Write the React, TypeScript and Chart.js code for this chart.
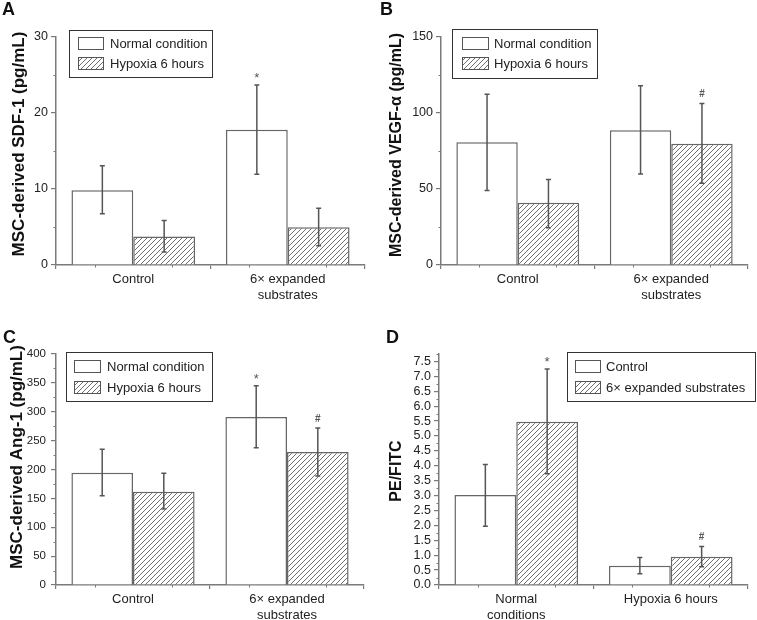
import React, { useEffect, useRef } from 'react';
import { Chart, registerables } from 'chart.js';

Chart.register(...registerables);

// ---------- Data ----------
// Panel A: SDF-1
const catsA: (string | string[])[] = ['Control', ['6× expanded', 'substrates']];
const normalA = [9.85, 17.8];
const normalLoA = [6.75, 11.95];
const normalHiA = [13.05, 23.7];
const hypoxA = [3.75, 4.96];
const hypoxLoA = [1.7, 2.54];
const hypoxHiA = [5.85, 7.46];
const marksNormalA = ['', '*'];
const marksHypoxA = ['', ''];
const ticksA = [0, 10, 20, 30];

// Panel B: VEGF-α
const catsB: (string | string[])[] = ['Control', ['6× expanded', 'substrates']];
const normalB = [80.7, 88.6];
const normalLoB = [49.0, 59.9];
const normalHiB = [112.4, 117.9];
const hypoxB = [40.9, 79.8];
const hypoxLoB = [24.5, 53.8];
const hypoxHiB = [56.2, 106.3];
const marksNormalB = ['', ''];
const marksHypoxB = ['', '#'];
const ticksB = [0, 50, 100, 150];

// Panel C: Ang-1
const catsC: (string | string[])[] = ['Control', ['6× expanded', 'substrates']];
const normalC = [194.5, 290.9];
const normalLoC = [154.7, 237.8];
const normalHiC = [234.9, 345.2];
const hypoxC = [161.6, 230.3];
const hypoxLoC = [131.6, 188.7];
const hypoxHiC = [193.4, 271.9];
const marksNormalC = ['', '*'];
const marksHypoxC = ['', '#'];
const ticksC = [0, 50, 100, 150, 200, 250, 300, 350, 400];

// Panel D: PE/FITC
const catsD: (string | string[])[] = [['Normal', 'conditions'], 'Hypoxia 6 hours'];
const controlD = [3.02, 0.65];
const controlLoD = [1.97, 0.38];
const controlHiD = [4.04, 0.92];
const expandedD = [5.48, 0.95];
const expandedLoD = [3.73, 0.61];
const expandedHiD = [7.25, 1.29];
const marksControlD = ['', ''];
const marksExpandedD = ['*', '#'];
const ticksD = [0, 0.5, 1, 1.5, 2, 2.5, 3, 3.5, 4, 4.5, 5, 5.5, 6, 6.5, 7, 7.5];

const legendAC = ['Normal condition', 'Hypoxia 6 hours'];
const legendD = ['Control', '6× expanded substrates'];

// ---------- Styles ----------
const FONT = '"Liberation Sans", Arial, Helvetica, sans-serif';
const AXIS = '#7a7a7a';
const BAR_BORDER = '#666666';
const ERR = '#555555';
const TEXT = '#222222';

type Series = {
  label: string;
  data: number[];
  lo: number[];
  hi: number[];
  marks: string[];
  hatched: boolean;
};

type PanelCfg = {
  key: string;
  letter: string;
  letterX: number;
  letterY: number;
  x: number;
  y: number;
  w: number;
  h: number;
  area: { left: number; right: number; top: number; bottom: number };
  labels: (string | string[])[];
  series: Series[];
  yMax: number;
  ticks: number[];
  minorStep: number;
  decimals: number;
  tickFont: number;
  tickPad: number;
  title: string;
  titleFont: number;
  titleX: number;
  titleY: number;
  legend: { x: number; y: number; w: number; h: number; swX: number; swW: number; swH: number; rows: number[]; textX: number };
};

const panels: PanelCfg[] = [
  {
    key: 'A', letter: 'A', letterX: 2, letterY: 0, x: 0, y: 0, w: 378, h: 310,
    area: { left: 56, right: 365, top: 37, bottom: 265 },
    labels: catsA,
    series: [
      { label: legendAC[0], data: normalA, lo: normalLoA, hi: normalHiA, marks: marksNormalA, hatched: false },
      { label: legendAC[1], data: hypoxA, lo: hypoxLoA, hi: hypoxHiA, marks: marksHypoxA, hatched: true },
    ],
    yMax: 30, ticks: ticksA, minorStep: 5, decimals: 0, tickFont: 12.5, tickPad: 3,
    title: 'MSC-derived SDF-1 (pg/mL)', titleFont: 17, titleX: 19, titleY: 144,
    legend: { x: 69, y: 30, w: 143, h: 47, swX: 78, swW: 25, swH: 12, rows: [37, 57], textX: 110 },
  },
  {
    key: 'B', letter: 'B', letterX: 2, letterY: 0, x: 378, y: 0, w: 379, h: 310,
    area: { left: 63, right: 370, top: 37, bottom: 265 },
    labels: catsB,
    series: [
      { label: legendAC[0], data: normalB, lo: normalLoB, hi: normalHiB, marks: marksNormalB, hatched: false },
      { label: legendAC[1], data: hypoxB, lo: hypoxLoB, hi: hypoxHiB, marks: marksHypoxB, hatched: true },
    ],
    yMax: 150, ticks: ticksB, minorStep: 25, decimals: 0, tickFont: 12.5, tickPad: 3,
    title: 'MSC-derived VEGF-α (pg/mL)', titleFont: 16, titleX: 19, titleY: 145,
    legend: { x: 74, y: 29, w: 145, h: 49, swX: 84, swW: 26, swH: 12, rows: [37, 57], textX: 116 },
  },
  {
    key: 'C', letter: 'C', letterX: 3, letterY: 18, x: 0, y: 310, w: 378, h: 310,
    area: { left: 56, right: 364, top: 44, bottom: 275 },
    labels: catsC,
    series: [
      { label: legendAC[0], data: normalC, lo: normalLoC, hi: normalHiC, marks: marksNormalC, hatched: false },
      { label: legendAC[1], data: hypoxC, lo: hypoxLoC, hi: hypoxHiC, marks: marksHypoxC, hatched: true },
    ],
    yMax: 400, ticks: ticksC, minorStep: 25, decimals: 0, tickFont: 11.5, tickPad: 5,
    title: 'MSC-derived Ang-1 (pg/mL)', titleFont: 17, titleX: 17, titleY: 147,
    legend: { x: 66, y: 42, w: 146, h: 49, swX: 74, swW: 26, swH: 12, rows: [50, 71], textX: 107 },
  },
  {
    key: 'D', letter: 'D', letterX: 8, letterY: 18, x: 378, y: 310, w: 379, h: 310,
    area: { left: 61, right: 370, top: 44, bottom: 275 },
    labels: catsD,
    series: [
      { label: legendD[0], data: controlD, lo: controlLoD, hi: controlHiD, marks: marksControlD, hatched: false },
      { label: legendD[1], data: expandedD, lo: expandedLoD, hi: expandedHiD, marks: marksExpandedD, hatched: true },
    ],
    yMax: 7.75, ticks: ticksD, minorStep: 0.25, decimals: 1, tickFont: 12.5, tickPad: 3,
    title: 'PE/FITC', titleFont: 16, titleX: 18.5, titleY: 161,
    legend: { x: 189, y: 42, w: 188, h: 49, swX: 197, swW: 25, swH: 12, rows: [50, 71], textX: 228 },
  },
];

function makeHatch(ctx: CanvasRenderingContext2D): CanvasPattern | string {
  const s = 5;
  const c = document.createElement('canvas');
  c.width = s;
  c.height = s;
  const g = c.getContext('2d');
  if (!g) return '#ccc';
  g.fillStyle = '#ffffff';
  g.fillRect(0, 0, s, s);
  g.strokeStyle = '#6f6f6f';
  g.lineWidth = 1;
  g.beginPath();
  g.moveTo(0, s);
  g.lineTo(s, 0);
  g.moveTo(-1, 1);
  g.lineTo(1, -1);
  g.moveTo(s - 1, s + 1);
  g.lineTo(s + 1, s - 1);
  g.stroke();
  return ctx.createPattern(c, 'repeat') || '#ccc';
}

function Panel({ cfg }: { cfg: PanelCfg }) {
  const ref = useRef<HTMLCanvasElement | null>(null);

  useEffect(() => {
    const canvas = ref.current;
    if (!canvas) return;
    const ctx0 = canvas.getContext('2d');
    if (!ctx0) return;
    const hatch = makeHatch(ctx0);

    const extras = {
      id: 'extras' + cfg.key,
      afterDatasetsDraw(chart: any) {
        const ctx: CanvasRenderingContext2D = chart.ctx;
        const ys = chart.scales.y;
        ctx.save();
        cfg.series.forEach((s, di) => {
          const meta = chart.getDatasetMeta(di);
          meta.data.forEach((el: any, i: number) => {
            const x = el.x;
            const yTop = ys.getPixelForValue(s.hi[i]);
            const yBot = ys.getPixelForValue(s.lo[i]);
            ctx.strokeStyle = ERR;
            ctx.lineWidth = 1.5;
            ctx.beginPath();
            ctx.moveTo(x, yTop);
            ctx.lineTo(x, yBot);
            ctx.moveTo(x - 2.5, yTop);
            ctx.lineTo(x + 2.5, yTop);
            ctx.moveTo(x - 2.5, yBot);
            ctx.lineTo(x + 2.5, yBot);
            ctx.stroke();
            const m = s.marks[i];
            if (m) {
              ctx.fillStyle = '#555';
              ctx.font = (m === '*' ? '13px ' : 'bold 10px ') + FONT;
              ctx.textAlign = 'center';
              ctx.textBaseline = 'middle';
              ctx.fillText(m, x, yTop - (m === '*' ? 6 : 9));
            }
          });
        });
        ctx.restore();
      },
      afterDraw(chart: any) {
        const ctx: CanvasRenderingContext2D = chart.ctx;
        const ys = chart.scales.y;
        const xs = chart.scales.x;
        const { left, right, bottom } = chart.chartArea;
        ctx.save();
        ctx.strokeStyle = AXIS;
        ctx.lineWidth = 1;
        ctx.beginPath();
        // minor y ticks
        const n = Math.round(cfg.yMax / cfg.minorStep);
        for (let k = 1; k <= n; k++) {
          const v = k * cfg.minorStep;
          if (cfg.ticks.some((t) => Math.abs(t - v) < 1e-9)) continue;
          const py = Math.round(ys.getPixelForValue(v)) + 0.5;
          ctx.moveTo(left - 2.5, py);
          ctx.lineTo(left, py);
        }
        // minor x ticks at quarter-category positions
        const nCat = cfg.labels.length;
        const catW = (right - left) / nCat;
        for (let c = 0; c < nCat; c++) {
          [0.25, 0.75].forEach((f) => {
            const px = Math.round(left + (c + f) * catW) + 0.5;
            ctx.moveTo(px, bottom);
            ctx.lineTo(px, bottom + 2.5);
          });
        }
        ctx.stroke();
        void xs;

        const L = cfg.legend;
        ctx.fillStyle = '#ffffff';
        ctx.fillRect(L.x, L.y, L.w, L.h);
        ctx.strokeStyle = '#333';
        ctx.lineWidth = 1;
        ctx.strokeRect(L.x + 0.5, L.y + 0.5, L.w, L.h);
        cfg.series.forEach((s, i) => {
          const top = L.rows[i];
          ctx.fillStyle = s.hatched ? (hatch as any) : '#ffffff';
          ctx.fillRect(L.swX, top, L.swW, L.swH);
          ctx.strokeStyle = '#555';
          ctx.lineWidth = 1;
          ctx.strokeRect(L.swX + 0.5, top + 0.5, L.swW, L.swH);
          ctx.fillStyle = TEXT;
          ctx.font = '13px ' + FONT;
          ctx.textAlign = 'left';
          ctx.textBaseline = 'middle';
          ctx.fillText(s.label, L.textX, top + L.swH / 2 + 1);
        });

        ctx.translate(cfg.titleX, cfg.titleY);
        ctx.rotate(-Math.PI / 2);
        ctx.fillStyle = '#111';
        ctx.font = 'bold ' + cfg.titleFont + 'px ' + FONT;
        ctx.textAlign = 'center';
        ctx.textBaseline = 'middle';
        ctx.fillText(cfg.title, 0, 0);
        ctx.restore();
      },
    };

    const chart = new Chart(canvas, {
      type: 'bar',
      data: {
        labels: cfg.labels as any,
        datasets: cfg.series.map((s) => ({
          label: s.label,
          data: s.data,
          backgroundColor: s.hatched ? (hatch as any) : '#ffffff',
          borderColor: BAR_BORDER,
          borderWidth: 1.5,
          borderSkipped: 'bottom',
          categoryPercentage: 0.8,
          barPercentage: 1.0,
        })),
      },
      options: {
        responsive: false,
        animation: false,
        devicePixelRatio: 1,
        layout: {
          padding: { left: 0, top: cfg.area.top, right: cfg.w - cfg.area.right, bottom: 0 },
        },
        plugins: {
          legend: { display: false },
          tooltip: { enabled: false },
          title: { display: false },
        },
        scales: {
          x: {
            type: 'category',
            offset: true,
            grid: {
              offset: true,
              drawOnChartArea: false,
              drawTicks: true,
              tickLength: 4,
              color: AXIS,
              lineWidth: 1.2,
            },
            border: { color: AXIS, width: 1.5 },
            ticks: {
              color: TEXT,
              font: { family: FONT, size: 13 },
              padding: 3,
              maxRotation: 0,
              minRotation: 0,
              autoSkip: false,
            },
            afterFit: (s: any) => {
              s.height = cfg.h - cfg.area.bottom;
            },
          },
          y: {
            type: 'linear',
            min: 0,
            max: cfg.yMax,
            grid: {
              drawOnChartArea: false,
              drawTicks: true,
              tickLength: 5,
              color: AXIS,
              lineWidth: 1.2,
            },
            border: { color: AXIS, width: 1.5 },
            ticks: {
              color: TEXT,
              font: { family: FONT, size: cfg.tickFont },
              padding: cfg.tickPad,
              autoSkip: false,
              callback: (v: any) => Number(v).toFixed(cfg.decimals),
            },
            afterBuildTicks: (s: any) => {
              s.ticks = cfg.ticks.map((v) => ({ value: v }));
            },
            afterFit: (s: any) => {
              s.width = cfg.area.left;
            },
          },
        },
      },
      plugins: [extras as any],
    });

    return () => {
      chart.destroy();
    };
  }, [cfg]);

  return (
    <div style={{ position: 'absolute', left: cfg.x, top: cfg.y, width: cfg.w, height: cfg.h }}>
      <canvas ref={ref} width={cfg.w} height={cfg.h} style={{ display: 'block', width: cfg.w, height: cfg.h }} />
      <div
        style={{
          position: 'absolute',
          left: cfg.letterX,
          top: cfg.letterY,
          font: 'bold 18px ' + FONT,
          lineHeight: '18px',
          color: '#111',
        }}
      >
        {cfg.letter}
      </div>
    </div>
  );
}

export default function App() {
  return (
    <div style={{ position: 'absolute', left: 0, top: 0, width: 757, height: 620, background: '#fff', overflow: 'hidden' }}>
      {panels.map((p) => (
        <Panel key={p.key} cfg={p} />
      ))}
    </div>
  );
}
